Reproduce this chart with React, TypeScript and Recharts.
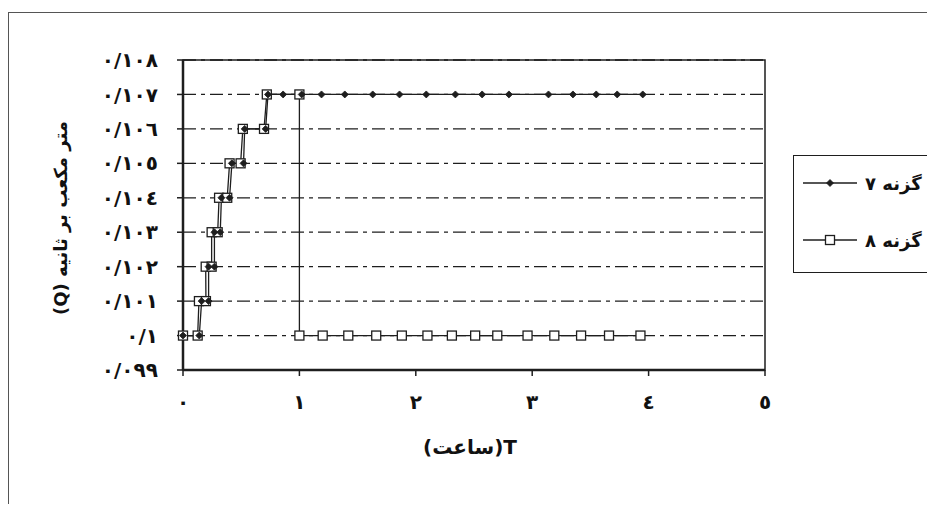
import { LineChart, Line, XAxis, YAxis, CartesianGrid, Legend, ReferenceArea } from 'recharts';

const s7X = [0, 0.14, 0.16, 0.22, 0.22, 0.27, 0.27, 0.32, 0.33, 0.4, 0.42, 0.52, 0.53, 0.71, 0.73, 0.86, 1.02, 1.19, 1.39, 1.63, 1.86, 2.09, 2.34, 2.57, 2.8, 3.14, 3.35, 3.55, 3.73, 3.95];
const s7Y = [0.1, 0.1, 0.101, 0.101, 0.102, 0.102, 0.103, 0.103, 0.104, 0.104, 0.105, 0.105, 0.106, 0.106, 0.107, 0.107, 0.107, 0.107, 0.107, 0.107, 0.107, 0.107, 0.107, 0.107, 0.107, 0.107, 0.107, 0.107, 0.107, 0.107];

const s8X = [0, 0.126, 0.137, 0.197, 0.195, 0.246, 0.246, 0.298, 0.31, 0.38, 0.4, 0.495, 0.514, 0.696, 0.72, 1.0, 1.0, 1.2, 1.42, 1.66, 1.88, 2.1, 2.31, 2.51, 2.7, 2.96, 3.19, 3.42, 3.66, 3.93];
const s8Y = [0.1, 0.1, 0.101, 0.101, 0.102, 0.102, 0.103, 0.103, 0.104, 0.104, 0.105, 0.105, 0.106, 0.106, 0.107, 0.107, 0.1, 0.1, 0.1, 0.1, 0.1, 0.1, 0.1, 0.1, 0.1, 0.1, 0.1, 0.1, 0.1, 0.1];

const xTicks = [0, 1, 2, 3, 4, 5];
const xTickLabels = ['٠', '١', '٢', '٣', '٤', '٥'];
const yTicks = [0.099, 0.1, 0.101, 0.102, 0.103, 0.104, 0.105, 0.106, 0.107, 0.108];
const yTickLabels = ['٠/٠٩٩', '٠/١', '٠/١٠١', '٠/١٠٢', '٠/١٠٣', '٠/١٠٤', '٠/١٠٥', '٠/١٠٦', '٠/١٠٧', '٠/١٠٨'];

const series7Name = 'گزنه ٧';
const series8Name = 'گزنه ٨';
const xTitle = '(ساعت)T';
const yTitle = 'متر مکعب بر ثانیه (Q)';

const data7 = s7X.map((x, i) => ({ x, y: s7Y[i] }));
const data8 = s8X.map((x, i) => ({ x, y: s8Y[i] }));

const INK = '#1e1e1e';
const FONT = '"DejaVu Sans", sans-serif';

const square = (p: any) => (
  <rect key={`sq-${p.index}`} x={p.cx - 4.5} y={p.cy - 4.5} width={9} height={9} fill="#fff" stroke={INK} strokeWidth={1.3} />
);

const diamond = (p: any) => (
  <polygon
    key={`dm-${p.index}`}
    points={`${p.cx},${p.cy - 3.5} ${p.cx + 3.5},${p.cy} ${p.cx},${p.cy + 3.5} ${p.cx - 3.5},${p.cy}`}
    fill={INK}
    stroke={INK}
    strokeWidth={0.8}
  />
);

const renderYLabel = (props: any) => {
  const vb = props.viewBox;
  const cx = 52;
  const cy = vb.y + vb.height / 2 + 3;
  return (
    <text x={cx} y={cy} transform={`rotate(-90 ${cx} ${cy})`} textAnchor="middle" dominantBaseline="central"
      direction="rtl" fontFamily={FONT} fontWeight="bold" fontSize={18} fill="#111">
      {yTitle}
    </text>
  );
};

const renderXLabel = (props: any) => {
  const vb = props.viewBox;
  const cx = vb.x + vb.width / 2 - 4;
  return (
    <text x={cx} y={439} textAnchor="middle" dominantBaseline="central"
      fontFamily={FONT} fontWeight="bold" fontSize={20} fill="#111">
      {xTitle}
    </text>
  );
};

function LegendBox() {
  const row = (name: string, kind: 'diamond' | 'square') => (
    <div style={{ display: 'flex', alignItems: 'center', height: 24 }}>
      <svg width={58} height={14} style={{ marginLeft: 9 }}>
        <line x1={0} y1={7} x2={54} y2={7} stroke={INK} strokeWidth={1.3} />
        {kind === 'diamond'
          ? diamond({ cx: 27, cy: 7, index: 0 })
          : square({ cx: 27, cy: 7, index: 0 })}
      </svg>
      <span style={{ direction: 'rtl', fontFamily: FONT, fontWeight: 'bold', fontSize: 18, color: '#111', marginLeft: 4 }}>
        {name}
      </span>
    </div>
  );
  return (
    <div style={{ border: `1.5px solid ${INK}`, width: 135, height: 118, boxSizing: 'border-box', paddingTop: 15, background: '#fff' }}>
      {row(series7Name, 'diamond')}
      <div style={{ height: 33 }} />
      {row(series8Name, 'square')}
    </div>
  );
}

export default function App() {
  return (
    <div style={{ position: 'relative', width: 927, height: 496, overflow: 'hidden', background: '#fff' }}>
      <div style={{ position: 'absolute', left: 0, top: 4, width: 1200, height: 800, borderLeft: '1.5px solid #555', borderTop: '1.5px solid #555' }} />
      <LineChart
        width={927}
        height={496}
        data={data8}
        margin={{ top: 52, right: 170, left: 85, bottom: 104 }}
        style={{ position: 'absolute', left: 0, top: 0 }}
      >
        <CartesianGrid horizontal vertical={false} stroke={INK} strokeWidth={1.3} strokeDasharray="13 5 4 5" />
        <ReferenceArea x1={0} x2={5} y1={0.099} y2={0.108} fill="none" stroke={INK} strokeWidth={1.5} />
        <XAxis
          type="number"
          dataKey="x"
          domain={[0, 5]}
          ticks={xTicks}
          tickFormatter={(v: number, i: number) => xTickLabels[i]}
          height={30}
          tickSize={6}
          tickMargin={19}
          axisLine={{ stroke: INK, strokeWidth: 2.5 }}
          tickLine={{ stroke: INK, strokeWidth: 1.5 }}
          tick={{ fill: '#111', fontSize: 20, fontWeight: 'bold', fontFamily: FONT }}
          label={renderXLabel}
        />
        <YAxis
          type="number"
          dataKey="y"
          domain={[0.099, 0.108]}
          ticks={yTicks}
          tickFormatter={(v: number, i: number) => yTickLabels[i]}
          width={90}
          tickSize={6}
          tickMargin={19}
          interval={0}
          axisLine={{ stroke: INK, strokeWidth: 2.5 }}
          tickLine={{ stroke: INK, strokeWidth: 1.5 }}
          tick={{ fill: '#111', fontSize: 20, fontWeight: 'bold', fontFamily: FONT, letterSpacing: 4 }}
          label={renderYLabel}
        />
        <Legend
          layout="horizontal"
          verticalAlign="middle"
          align="center"
          wrapperStyle={{ position: 'absolute', left: 785, top: 147, width: 135 }}
          content={() => <LegendBox />}
        />
        <Line data={data8} dataKey="y" name={series8Name} type="linear" stroke={INK} strokeWidth={1.3}
          dot={square} activeDot={false} isAnimationActive={false} />
        <Line data={data7} dataKey="y" name={series7Name} type="linear" stroke={INK} strokeWidth={1.3}
          dot={diamond} activeDot={false} isAnimationActive={false} />
      </LineChart>
    </div>
  );
}
